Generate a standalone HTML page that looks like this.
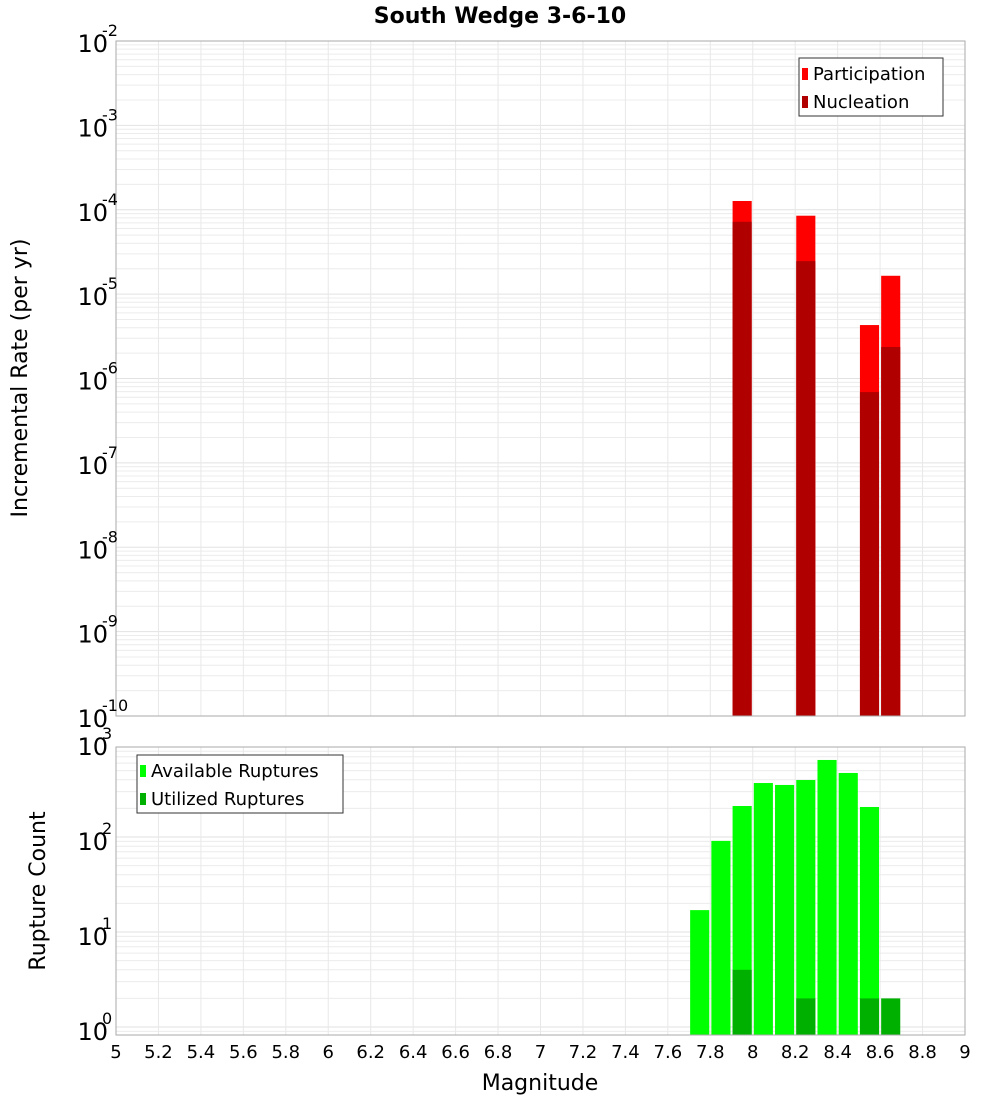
<!DOCTYPE html>
<html><head><meta charset="utf-8"><style>
body{margin:0;background:#fff;font-family:"Liberation Sans","DejaVu Sans",sans-serif}
svg text{font-family:"DejaVu Sans","Liberation Sans",sans-serif}
</style></head><body>
<svg id="c" width="1000" height="1100" xmlns="http://www.w3.org/2000/svg">
<text x="500" y="23" text-anchor="middle" font-size="22" font-weight="bold">South Wedge 3-6-10</text>
</svg>
<script>
const rateMags=[7.95,8.25,8.55,8.65];
const participation=[1.27e-4,8.5e-5,4.3e-6,1.65e-5];
const nucleation=[7.2e-5,2.46e-5,6.9e-7,2.36e-6];
const countMags=[7.75,7.85,7.95,8.05,8.15,8.25,8.35,8.45,8.55,8.65];
const available=[17,91,212,370,353,398,647,472,207,0];
const utilized=[0,0,4,0,0,2,0,0,2,2];
const xTicks=["5","5.2","5.4","5.6","5.8","6","6.2","6.4","6.6","6.8","7","7.2","7.4","7.6","7.8","8","8.2","8.4","8.6","8.8","9"];
const topExps=[-2,-3,-4,-5,-6,-7,-8,-9,-10];
const botExps=[3,2,1,0];

const svg=document.getElementById('c');const NS='http://www.w3.org/2000/svg';
function mk(t,a,p){const e=document.createElementNS(NS,t);for(const k in a)e.setAttribute(k,a[k]);(p||svg).appendChild(e);return e;}
const X0=116,X1=965;
const xs=m=>X0+(m-5)/4*(X1-X0);
const yTop=v=>41+(-2-Math.log10(v))*84.375;
const yBot=v=>1027-Math.log10(v)*95;

// plot backgrounds & grids
function grid(y0,y1,yf,lo,hi,name){
  const g=mk('g',{});
  
  
  for(let e=lo;e<hi;e++)for(let k=1;k<10;k++){const y=yf(k*Math.pow(10,e));if(y>=y0&&y<=y1)mk('line',{x1:X0,x2:X1,y1:y,y2:y,stroke:k==1?'#e2e2e2':'#ececec','stroke-width':1},g);}
  xTicks.forEach(t=>{const x=xs(+t);mk('line',{x1:x,x2:x,y1:y0,y2:y1,stroke:'#e8e8e8'},g);});
}
grid(41,716,yTop,-10,-1,'rate');
grid(747,1035,yBot,-1,4,'count');

const bw=(X1-X0)/40*0.9;
rateMags.forEach((m,i)=>{
  let r=mk('rect',{x:xs(m)-bw/2,y:yTop(participation[i]),width:bw,height:716-yTop(participation[i]),fill:'#ff0000'});
  
  
  r=mk('rect',{x:xs(m)-bw/2,y:yTop(nucleation[i]),width:bw,height:716-yTop(nucleation[i]),fill:'#b00000'});
  
  
});
countMags.forEach((m,i)=>{
  if(available[i]>0){const r=mk('rect',{x:xs(m)-bw/2,y:yBot(available[i]),width:bw,height:1035-yBot(available[i]),fill:'#00ff00'});
  
  }
  if(utilized[i]>0){const r=mk('rect',{x:xs(m)-bw/2,y:yBot(utilized[i]),width:bw,height:1035-yBot(utilized[i]),fill:'#00b000'});
  
  }
});
mk('rect',{x:X0,y:41,width:X1-X0,height:675,fill:'none',stroke:'#aaa'});
mk('rect',{x:X0,y:747,width:X1-X0,height:288,fill:'none',stroke:'#aaa'});

function ylab(y,e){
  const t=mk('text',{x:108,y:y+11,'text-anchor':'end','font-size':24});
  
  
  t.textContent='10';
  const s=mk('text',{x:102,y:y-5,'font-size':16});
  
  
  s.textContent=e;
}
topExps.forEach(e=>ylab(yTop(Math.pow(10,e)),e));
botExps.forEach(e=>ylab(yBot(Math.pow(10,e))+2,e));
xTicks.forEach(t=>{const l=mk('text',{x:xs(+t),y:1058,'text-anchor':'middle','font-size':18});
  
  
  l.textContent=t;});

let a=mk('text',{x:540,y:1090,'text-anchor':'middle','font-size':22});


a.textContent='Magnitude';
a=mk('text',{x:0,y:0,'text-anchor':'middle','font-size':22,transform:'translate(27,378) rotate(-90)'});


a.textContent='Incremental Rate (per yr)';
a=mk('text',{x:0,y:0,'text-anchor':'middle','font-size':22,transform:'translate(45,891) rotate(-90)'});


a.textContent='Rupture Count';

function legend(x,y,w,items,name){
  const g=mk('g',{});
  
  
  mk('rect',{x:x,y:y,width:w,height:58,fill:'#fff',stroke:'#333'},g);
  items.forEach((it,i)=>{
    mk('rect',{x:x+3,y:y+10+i*28,width:6,height:12,fill:it[1]},g);
    const t=mk('text',{x:x+14,y:y+22+i*28,'font-size':18},g);
    
    
    t.textContent=it[0];
  });
}
legend(799,58,144,[['Participation','#ff0000'],['Nucleation','#b00000']],'rate-legend');
legend(137,755,206,[['Available Ruptures','#00ff00'],['Utilized Ruptures','#00b000']],'count-legend');
</script>
</body></html>
